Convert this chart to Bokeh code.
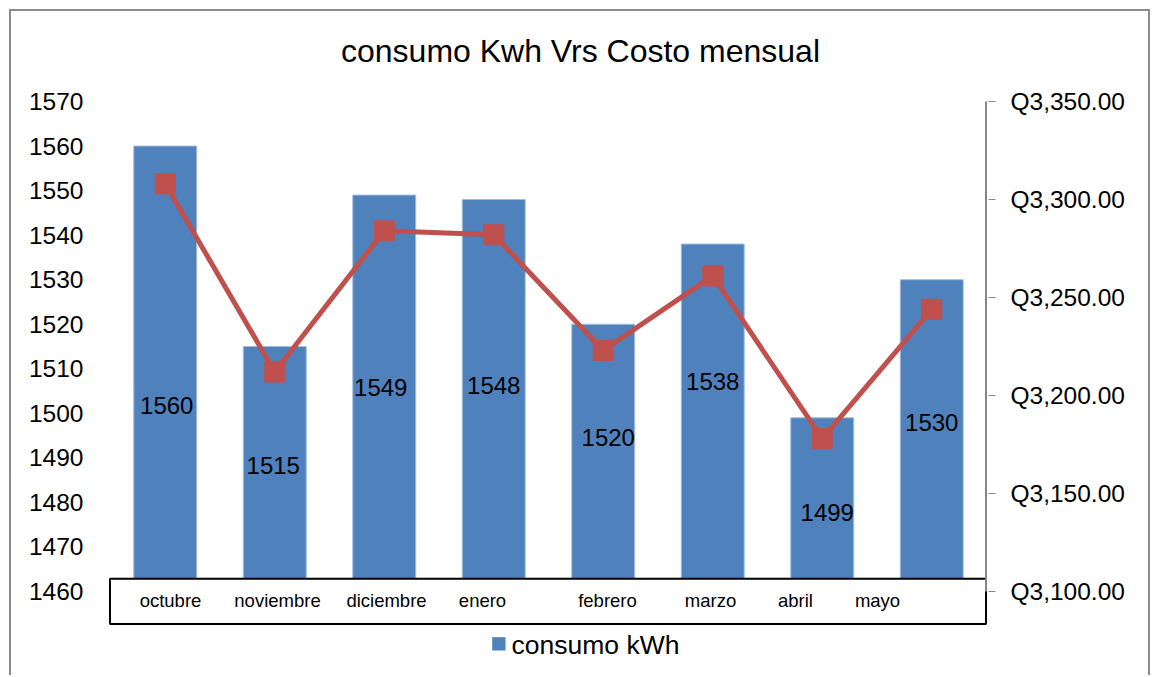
from bokeh.plotting import figure
from bokeh.models import Range1d, LinearAxis, FixedTicker
from bokeh.core.properties import value
from bokeh.embed import file_html
from bokeh.resources import INLINE

# ---------------- data ----------------
meses = ["octubre", "noviembre", "diciembre", "enero", "febrero", "marzo", "abril", "mayo"]
consumo_kwh = [1560, 1515, 1549, 1548, 1520, 1538, 1499, 1530]
costo_q = [3308, 3212, 3284, 3282, 3223, 3261, 3178, 3244]
left_ticks = [1460, 1470, 1480, 1490, 1500, 1510, 1520, 1530, 1540, 1550, 1560, 1570]
right_ticks = [3100, 3150, 3200, 3250, 3300, 3350]
titulo = "consumo Kwh Vrs Costo mensual"
leyenda = "consumo kWh"

# ---------------- layout (page pixels; canvas starts at page 0,0) ----------------
W, H = 1155, 675
PLOT_L, PLOT_R = 110, 986
PLOT_T, PLOT_B = 101, 591
FRAME_L, FRAME_R = 108, 988
FRAME_T, FRAME_B = 0, H

n = len(meses)


def dx(px):
    return (px - PLOT_L) * n / (PLOT_R - PLOT_L)


ymin, ymax = left_ticks[0], left_ticks[-1]


def dy(py):
    return ymin + (PLOT_B - py) * (ymax - ymin) / (PLOT_B - PLOT_T)


rmin, rmax = right_ticks[0], right_ticks[-1]


def dr(py):
    return rmin + (PLOT_B - py) * (rmax - rmin) / (PLOT_B - PLOT_T)


# data-label vertical placement (page px) and small horizontal nudges (px)
label_py = [405, 465, 387, 385, 437, 381, 512, 422]
label_dpx = [1.5, -1.5, -3.5, 0, 5, 0, 5, 0]
# category label centres inside the box (page px)
cat_px = [170, 277, 386, 482, 607, 710, 795, 877]

FONT = value("Liberation Sans")
BLUE = "#4F81BD"
RED = "#C0504D"
GRAY = "#868686"

p = figure(
    width=W, height=H, output_backend="svg", toolbar_location=None, title=None,
    x_range=Range1d(dx(FRAME_L), dx(FRAME_R)),
    y_range=Range1d(dy(FRAME_B), dy(FRAME_T)),
    x_axis_location=None, y_axis_location=None,
    min_border=0,
    min_border_left=FRAME_L,
    min_border_right=W - FRAME_R,
    min_border_top=0, min_border_bottom=0,
)
p.extra_y_ranges = {"costo": Range1d(dr(FRAME_B), dr(FRAME_T))}
p.outline_line_color = None
p.background_fill_color = None
p.border_fill_color = None
for g in p.grid:
    g.visible = False

# outer gray border of the chart area (CSS background behind a transparent canvas)
G = "linear-gradient(#8C8C8C, #8C8C8C)"
p.styles = {
    "background-color": "white",
    "background-image": ", ".join([G, G, G]),
    "background-size": "1141px 2px, 2px 670px, 2px 670px",
    "background-position": "9px 9px, 9px 9px, 1148px 9px",
    "background-repeat": "no-repeat",
}

# left axis
la = LinearAxis(ticker=FixedTicker(ticks=left_ticks))
la.axis_line_color = None
la.major_tick_line_color = None
la.minor_tick_line_color = None
la.major_tick_out = 0
la.major_tick_in = 0
la.major_label_standoff = 25
la.major_label_text_font = "Liberation Sans"
la.major_label_text_font_size = "24.5px"
la.major_label_text_color = "black"
p.add_layout(la, "left")

# right axis
ra = LinearAxis(y_range_name="costo", ticker=FixedTicker(ticks=right_ticks))
ra.axis_line_color = None
ra.major_tick_line_color = GRAY
ra.major_tick_out = 7
ra.major_tick_in = 0
ra.minor_tick_line_color = None
ra.major_label_standoff = 15
ra.major_label_text_font = "Liberation Sans"
ra.major_label_text_font_size = "24.5px"
ra.major_label_text_color = "black"
ra.major_label_overrides = {t: "Q{:,.2f}".format(t) for t in right_ticks}
p.add_layout(ra, "right")

xc = [i + 0.5 for i in range(n)]

# bars (their feet are hidden behind the category box)
p.vbar(x=xc, width=0.575, top=consumo_kwh, bottom=dy(600),
       fill_color=BLUE, line_color="#A5BEDD", line_width=1)

# category box
p.quad(left=dx(109.5), right=dx(985.5), top=dy(578.3), bottom=dy(623.5),
       fill_color="white", line_color="black", line_width=2)
p.text(x=[dx(v) for v in cat_px], y=[dy(600)] * n, text=meses,
       text_font=FONT, text_font_size=value("18.5px"), text_color="black",
       text_align="center", text_baseline="middle")

# right axis line
p.segment(x0=[dx(985.5)], x1=[dx(985.5)], y0=[rmin], y1=[rmax], y_range_name="costo",
          line_color=GRAY, line_width=2)

# cost line
p.line(x=xc, y=costo_q, y_range_name="costo", line_color=RED, line_width=5)
p.scatter(x=xc, y=costo_q, y_range_name="costo", marker="square", size=20,
          fill_color=RED, line_color=RED)

# data labels
p.text(x=[c + d * n / (PLOT_R - PLOT_L) for c, d in zip(xc, label_dpx)],
       y=[dy(v) for v in label_py], text=[str(v) for v in consumo_kwh],
       text_font=FONT, text_font_size=value("24px"), text_color="black",
       text_align="center", text_baseline="middle")

# title
p.text(x=[dx(580)], y=[dy(50)], text=[titulo], text_font=FONT,
       text_font_size=value("32px"), text_color="black",
       text_align="center", text_baseline="middle")

# legend
p.quad(left=dx(491.7), right=dx(505), top=dy(636.7), bottom=dy(650),
       fill_color=BLUE, line_color=None)
p.text(x=[dx(511)], y=[dy(644)], text=[leyenda], text_font=FONT,
       text_font_size=value("26.5px"), text_color="black",
       text_align="left", text_baseline="middle")

open("out.html", "w").write(file_html(p, INLINE))
